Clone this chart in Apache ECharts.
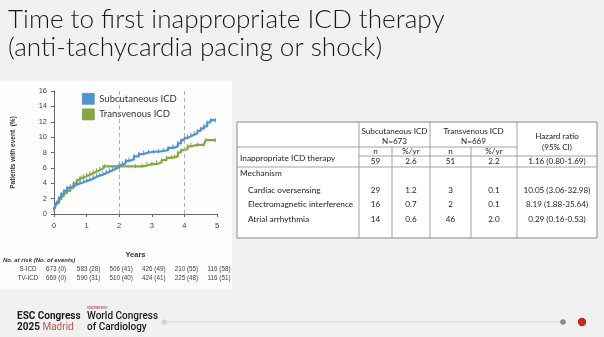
<!DOCTYPE html>
<html><head><meta charset="utf-8">
<script src="https://cdn.jsdelivr.net/npm/echarts@6/dist/echarts.min.js"></script>
<style>html,body{margin:0;padding:0;background:#f1f1f1;}#c{width:604px;height:337px;}</style>
</head><body><div id="c"></div>
<script>
// ---- data ----
var titleLines = ['Time to first inappropriate ICD therapy', '(anti-tachycardia pacing or shock)'];
var seriesNames = ['Subcutaneous ICD', 'Transvenous ICD'];
var sicdYears = [0, .03, .08, .15, .22, .3, .4, .5, .6, .7, .8, .9, 1.0, 1.1, 1.2, 1.3, 1.4, 1.5, 1.6, 1.7, 1.8, 1.9, 2.0, 2.1, 2.2, 2.3, 2.45, 2.6, 2.75, 2.9, 3.05, 3.2, 3.35, 3.5, 3.65, 3.8, 3.9, 4.0, 4.1, 4.2, 4.3, 4.4, 4.5, 4.6, 4.7, 4.8, 4.95];
var sicdPct   = [0.6, 1.0, 1.5, 2.1, 2.6, 3.0, 3.4, 3.6, 3.8, 4.0, 4.1, 4.3, 4.4, 4.6, 4.8, 5.0, 5.1, 5.3, 5.5, 5.7, 5.9, 6.1, 6.4, 6.6, 6.9, 7.1, 7.5, 7.8, 8.0, 8.1, 8.1, 8.2, 8.3, 8.6, 8.8, 9.2, 9.6, 9.9, 10.1, 10.3, 10.5, 10.8, 11.1, 11.4, 11.9, 12.2, 12.2];
var tvYears = [0, .03, .08, .15, .22, .3, .4, .5, .6, .7, .8, .9, 1.0, 1.1, 1.2, 1.3, 1.4, 1.5, 1.55, 2.0, 2.5, 2.7, 2.85, 3.0, 3.15, 3.3, 3.45, 3.6, 3.7, 3.8, 3.9, 4.0, 4.1, 4.2, 4.4, 4.6, 4.65, 4.95];
var tvPct   = [0.6, 0.9, 1.4, 1.9, 2.3, 2.7, 3.0, 3.4, 4.0, 4.4, 4.7, 4.9, 5.1, 5.3, 5.5, 5.7, 5.9, 6.1, 6.2, 6.2, 6.2, 6.3, 6.5, 6.5, 6.7, 7.0, 7.3, 7.4, 7.5, 8.0, 8.3, 8.5, 8.8, 9.0, 9.0, 9.0, 9.6, 9.6];
var refYears = [2, 4];
var riskYears = [0, 1, 2, 3, 4, 5];
var riskTitle = 'No. at risk (No. of events)';
var riskLabels = ['S-ICD', 'TV-ICD'];
var riskSicd = ['673 (0)', '583 (28)', '506 (41)', '426 (49)', '210 (55)', '116 (58)'];
var riskTv   = ['669 (0)', '590 (31)', '510 (40)', '424 (41)', '225 (48)', '116 (51)'];
var tblHeadGroups = ['Subcutaneous ICD', 'N=673', 'Transvenous ICD', 'N=669', 'Hazard ratio', '(95% CI)'];
var tblSub = ['n', '%/yr', 'n', '%/yr'];
var tblRowLabels = ['Inappropriate ICD therapy', 'Mechanism', 'Cardiac oversensing', 'Electromagnetic interference', 'Atrial arrhythmia'];
var tblOverall = ['59', '2.6', '51', '2.2', '1.16 (0.80-1.69)'];
var tblCardiac = ['29', '1.2', '3', '0.1', '10.05 (3.06-32.98)'];
var tblEmi     = ['16', '0.7', '2', '0.1', '8.19 (1.88-35.64)'];
var tblAtrial  = ['14', '0.6', '46', '2.0', '0.29 (0.16-0.53)'];

// ---- chart ----
var chart = echarts.init(document.getElementById('c'));
var BLUE = '#4f93d3', GREEN = '#84a944';
function pairs(xs, ys){ return xs.map(function(x,i){ return [x, ys[i]]; }); }
var FONT = 'Lato';
var TXT = '#222';

var option = {
  backgroundColor: '#f1f1f1',
  animation: false,
  grid: { left: 54, top: 91, width: 163, height: 123, containLabel: false },
  legend: {
    orient: 'vertical', left: 77, top: 88, itemWidth: 12, itemHeight: 11, itemGap: 4,
    icon: 'rect',
    textStyle: { fontFamily: FONT, fontSize: 9.5, color: '#333', padding: [0,0,0,0] },
    data: seriesNames.map(function(n,i){ return { name: n, itemStyle: { color: i ? GREEN : BLUE, borderColor: i ? '#6b8f33' : '#3f7fbf', borderWidth: 0.6 } }; })
  },
  xAxis: {
    type: 'value', min: 0, max: 5, interval: 1,
    name: 'Years', nameLocation: 'middle', nameGap: 37,
    nameTextStyle: { fontFamily: 'Liberation Sans', fontWeight: 'bold', fontSize: 7.5, color: '#333' },
    axisLine: { lineStyle: { color: '#666', width: 1 } },
    axisTick: { length: 3, lineStyle: { color: '#666' } },
    axisLabel: { fontFamily: 'Liberation Sans', fontSize: 7.5, color: '#444', margin: 8 },
    splitLine: { show: false }
  },
  yAxis: {
    type: 'value', min: 0, max: 16, interval: 2,
    name: 'Patients with event  (%)', nameLocation: 'middle', nameGap: 37, nameRotate: 90,
    nameTextStyle: { fontFamily: 'Liberation Sans', fontWeight: 'bold', fontSize: 6.5, color: '#333' },
    axisLine: { show: true, lineStyle: { color: '#666', width: 1 } },
    axisTick: { show: true, length: 3, lineStyle: { color: '#666' } },
    axisLabel: { fontFamily: 'Liberation Sans', fontSize: 7.5, color: '#444', margin: 7 },
    splitLine: { show: false }
  },
  series: [
    {
      name: seriesNames[0], type: 'line', step: 'end', data: pairs(sicdYears, sicdPct),
      lineStyle: { color: BLUE, width: 2.2 }, itemStyle: { color: BLUE },
      symbol: 'rect', symbolSize: [1, 4], showAllSymbol: true, z: 3,
      markLine: {
        silent: true, symbol: 'none', label: { show: false },
        lineStyle: { color: '#b0b0b0', type: [4, 3], width: 1 },
        data: refYears.map(function(y){ return { xAxis: y }; })
      }
    },
    {
      name: seriesNames[1], type: 'line', step: 'end', data: pairs(tvYears, tvPct),
      lineStyle: { color: GREEN, width: 2.2 }, itemStyle: { color: GREEN },
      symbol: 'rect', symbolSize: [1, 4], showAllSymbol: true, z: 2
    }
  ]
};
chart.setOption(option);

// ---- graphics: background panels, title, tables, footer ----
var g = [];
g.push({ type: 'rect', z: -10, shape: { x: 0, y: 81, width: 232, height: 208 }, style: { fill: '#fdfdfd' } });
g.push({ type: 'text', x: 8, y: 20, style: { text: titleLines[0], font: '300 26.1px Lato', fill: '#1a1a1a', textVerticalAlign: 'middle' } });
g.push({ type: 'text', x: 8, y: 48, style: { text: titleLines[1], font: '300 26.1px Lato', fill: '#1a1a1a', textVerticalAlign: 'middle' } });

// at-risk table
g.push({ type: 'text', x: 3, y: 260, style: { text: riskTitle, font: 'italic bold 6px "Liberation Sans"', fill: '#333', textVerticalAlign: 'middle' } });
[riskSicd, riskTv].forEach(function(row, r){
  var yy = r ? 278 : 269.5;
  g.push({ type: 'text', x: 28, y: yy, style: { text: riskLabels[r], font: '6.3px "Liberation Sans"', fill: '#444', textAlign: 'center', textVerticalAlign: 'middle' } });
  row.forEach(function(t, i){
    var px = chart.convertToPixel({ xAxisIndex: 0 }, riskYears[i]);
    g.push({ type: 'text', x: px + 2, y: yy, style: { text: t, font: '6.3px "Liberation Sans"', fill: '#444', textAlign: 'center', textVerticalAlign: 'middle' } });
  });
});

// results table
var TL = 237, TR = 597, TT = 122, TB = 238;
var cx = [359, 392, 430, 471, 517];
var LC = '#8a8a8a';
g.push({ type: 'rect', shape: { x: TL, y: TT, width: TR - TL, height: TB - TT }, style: { fill: '#fff', stroke: LC, lineWidth: 1 } });
function ln(x1,y1,x2,y2){ g.push({ type: 'line', shape: { x1: x1, y1: y1, x2: x2, y2: y2 }, style: { stroke: LC, lineWidth: 0.8 } }); }
ln(cx[0], TT, cx[0], TB); ln(cx[2], TT, cx[2], TB); ln(cx[4], TT, cx[4], TB);
ln(cx[1], 147, cx[1], TB); ln(cx[3], 147, cx[3], TB);
ln(TL, 147, cx[4], 147);
ln(cx[0], 156, TR, 156);
ln(TL, 167, TR, 167);
function tx(t, x, y, align, size){ g.push({ type: 'text', x: x, y: y, style: { text: t, font: (size||8.1) + 'px Lato', fill: TXT, textAlign: align || 'center', textVerticalAlign: 'middle' } }); }
tx(tblHeadGroups[0], (cx[0]+cx[2])/2, 131); tx(tblHeadGroups[1], (cx[0]+cx[2])/2, 141.5);
tx(tblHeadGroups[2], (cx[2]+cx[4])/2, 131); tx(tblHeadGroups[3], (cx[2]+cx[4])/2, 141.5);
tx(tblHeadGroups[4], (cx[4]+TR)/2, 136); tx(tblHeadGroups[5], (cx[4]+TR)/2, 147);
var colC = [(cx[0]+cx[1])/2, (cx[1]+cx[2])/2, (cx[2]+cx[3])/2, (cx[3]+cx[4])/2, (cx[4]+TR)/2];
tblSub.forEach(function(t,i){ tx(t, colC[i], 151.5); });
tblOverall.forEach(function(t,i){ tx(t, colC[i], 161.8); });
tx(tblRowLabels[0], 240, 158, 'left', 8.3);
tx(tblRowLabels[1], 240, 173, 'left', 8.3);
[tblCardiac, tblEmi, tblAtrial].forEach(function(row, r){
  var yy = [190, 204.5, 219][r];
  tx(tblRowLabels[r+2], 248, yy, 'left', 8.3);
  row.forEach(function(t,i){ tx(t, colC[i], yy); });
});

// footer
g.push({ type: 'line', shape: { x1: 164, y1: 322, x2: 563, y2: 322 }, style: { stroke: '#dedede', lineWidth: 1.5 } });
g.push({ type: 'circle', shape: { cx: 164, cy: 322, r: 2.5 }, style: { fill: '#cfcfcf' } });
g.push({ type: 'circle', shape: { cx: 563, cy: 322, r: 2.8 }, style: { fill: '#8a8a8a' } });
g.push({ type: 'circle', shape: { cx: 582, cy: 322, r: 4.2 }, style: { fill: '#c8281e' } });
g.push({ type: 'text', x: 17, y: 316, style: { text: 'ESC Congress', font: 'bold 10px Roboto', fill: '#1a1a1a', textVerticalAlign: 'middle' } });
g.push({ type: 'text', x: 17, y: 327, style: { rich: { a: { font: 'bold 10px Roboto', fill: '#1a1a1a' }, b: { font: '10px Roboto', fill: '#c2554f' } }, text: '{a|2025 }{b|Madrid}', textVerticalAlign: 'middle' } });
g.push({ type: 'text', x: 87, y: 308.5, style: { text: 'TOGETHER WITH', font: 'bold 2.6px Roboto', fill: '#c2554f', textVerticalAlign: 'middle' } });
g.push({ type: 'text', x: 87, y: 316, style: { text: 'World Congress', font: '500 10px Roboto', fill: '#1a1a1a', textVerticalAlign: 'middle' } });
g.push({ type: 'text', x: 87, y: 327, style: { text: 'of Cardiology', font: '500 10px Roboto', fill: '#1a1a1a', textVerticalAlign: 'middle' } });

chart.setOption({ graphic: { elements: g } });
</script></body></html>
